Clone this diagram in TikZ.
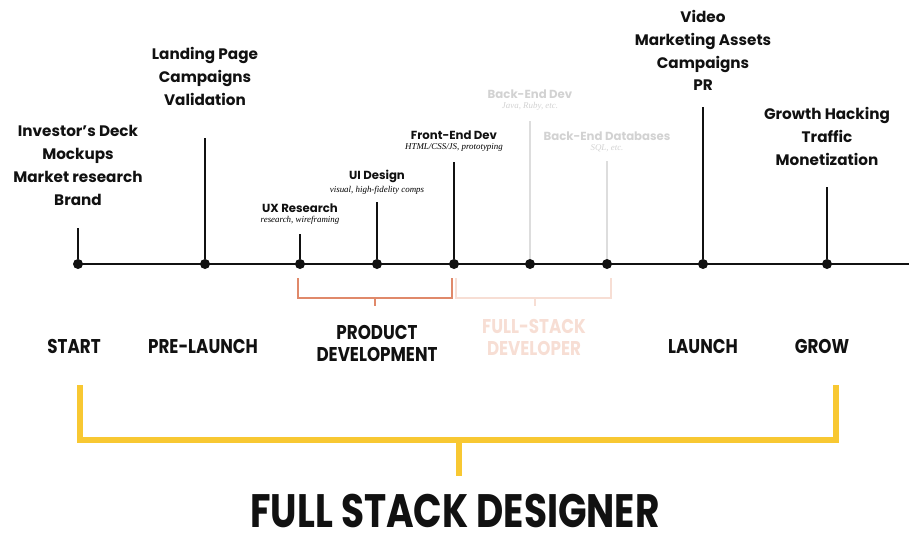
\documentclass[tikz,border=0pt]{standalone}
\usepackage{fontspec}
\setmainfont{Poppins}
\newfontfamily\notefont{Liberation Serif}
\usetikzlibrary{positioning}

\definecolor{ink}{HTML}{111111}
\definecolor{faint}{HTML}{D2D2D2}
\definecolor{faintline}{HTML}{DDDDDD}
\definecolor{rust}{HTML}{E0896A}
\definecolor{blush}{HTML}{F7DED4}
\definecolor{gold}{HTML}{F8C832}
\newcommand{\narrowtext}[1]{\scalebox{0.84}[1]{#1}}

\begin{document}
\begin{tikzpicture}[x=0.03cm,y=-0.03cm,
  dot/.style={circle,fill=ink,inner sep=0pt,minimum size=0.3cm},
  stem/.style={draw=ink,line width=1.3pt},
  stack/.style={anchor=north,inner sep=0pt,align=center,text=ink,
    font=\bfseries\fontsize{13}{19.5}\selectfont},
  skill/.style={anchor=north,inner sep=0pt,align=center,text=ink,
    font=\bfseries\fontsize{10}{11}\selectfont},
  note/.style={below=2.5pt of #1,inner sep=0pt,
    font=\notefont\itshape\fontsize{7.6}{8}\selectfont},
  phase/.style={anchor=base,inner sep=0pt,text=ink,
    font=\bfseries\fontsize{17}{21}\selectfont}]
 \useasboundingbox (0,0) rectangle (909,535);

 % timeline
 \node[dot] (start) at (78,264) {};
 \node[dot] (prelaunch) at (205,264) {};
 \node[dot] (ux) at (300,264) {};
 \node[dot] (ui) at (377,264) {};
 \node[dot] (frontend) at (454,264) {};
 \node[dot] (backend) at (530,264) {};
 \node[dot] (database) at (607,264) {};
 \node[dot] (launch) at (703,264) {};
 \node[dot] (grow) at (827,264) {};
 \coordinate (lineend) at (909,264);
 \draw[ink,line width=1.6pt] (start.center) -- (lineend);

 % stems
 \coordinate (start-top) at (78,228);
 \coordinate (prelaunch-top) at (205,138);
 \coordinate (ux-top) at (300,234);
 \coordinate (ui-top) at (377,202);
 \coordinate (frontend-top) at (454,162);
 \coordinate (backend-top) at (530,121);
 \coordinate (database-top) at (607,161);
 \coordinate (launch-top) at (703,107);
 \coordinate (grow-top) at (827,187);
 \draw[stem] (start) -- (start-top);
 \draw[stem] (prelaunch) -- (prelaunch-top);
 \draw[stem] (ux) -- (ux-top);
 \draw[stem] (ui) -- (ui-top);
 \draw[stem] (frontend) -- (frontend-top);
 \draw[stem,draw=faintline] (backend) -- (backend-top);
 \draw[stem,draw=faintline] (database) -- (database-top);
 \draw[stem] (launch) -- (launch-top);
 \draw[stem] (grow) -- (grow-top);

 % what happens at each step
 \node[stack] (start-txt) at (78,125) {Investor's Deck\\Mockups\\Market research\\Brand};
 \node[stack] (prelaunch-txt) at (205,47) {Landing Page\\Campaigns\\Validation};
 \node[stack] (launch-txt) at (703,10) {Video\\Marketing Assets\\Campaigns\\PR};
 \node[stack] (grow-txt) at (827,107) {Growth Hacking\\Traffic\\Monetization};

 \node[skill] (ux-txt) at (300,204) {UX Research};
 \node[note=ux-txt] (ux-note) {research, wireframing};
 \node[skill] (ui-txt) at (377,170) {UI Design};
 \node[note=ui-txt] (ui-note) {visual, high-fidelity comps};
 \node[skill] (frontend-txt) at (454,131) {Front-End Dev};
 \node[note=frontend-txt] (frontend-note) {HTML/CSS/JS, prototyping};
 \node[skill,text=faint] (backend-txt) at (530,90) {Back-End Dev};
 \node[note=backend-txt,text=faint] (backend-note) {Java, Ruby, etc.};
 \node[skill,text=faint] (database-txt) at (607,132) {Back-End Databases};
 \node[note=database-txt,text=faint] (database-note) {SQL, etc.};

 % brackets
 \draw[rust,line width=2pt] (298,278) |- (452,298) -- (452,278);
 \draw[rust,line width=2pt] (375,298) -- (375,306);
 \draw[blush,line width=2pt] (456,278) |- (611,298) -- (611,278);
 \draw[blush,line width=2pt] (535,298) -- (535,306);
 \draw[gold,line width=5pt] (80,385) |- (836,440) -- (836,385);
 \draw[gold,line width=5pt] (459,440) -- (459,476);

 % phases
 \node[phase] (start-lbl) at (74,353) {\narrowtext{START}};
 \node[phase] (prelaunch-lbl) at (203,353) {\narrowtext{PRE-LAUNCH}};
 \node[phase,anchor=north] (product-lbl) at (377,322)
   {\narrowtext{\begin{tabular}{@{}c@{}}PRODUCT\\[-2pt]DEVELOPMENT\end{tabular}}};
 \node[phase,anchor=north,text=blush] (fullstack-lbl) at (534,316)
   {\narrowtext{\begin{tabular}{@{}c@{}}FULL-STACK\\[-2pt]DEVELOPER\end{tabular}}};
 \node[phase] (launch-lbl) at (703,353) {\narrowtext{LAUNCH}};
 \node[phase] (grow-lbl) at (822,353) {\narrowtext{GROW}};

 \node[anchor=base,inner sep=0pt,text=ink,font=\bfseries\fontsize{40}{48}\selectfont]
   (designer) at (455,527) {\scalebox{0.8}[1]{FULL STACK DESIGNER}};
\end{tikzpicture}
\end{document}
